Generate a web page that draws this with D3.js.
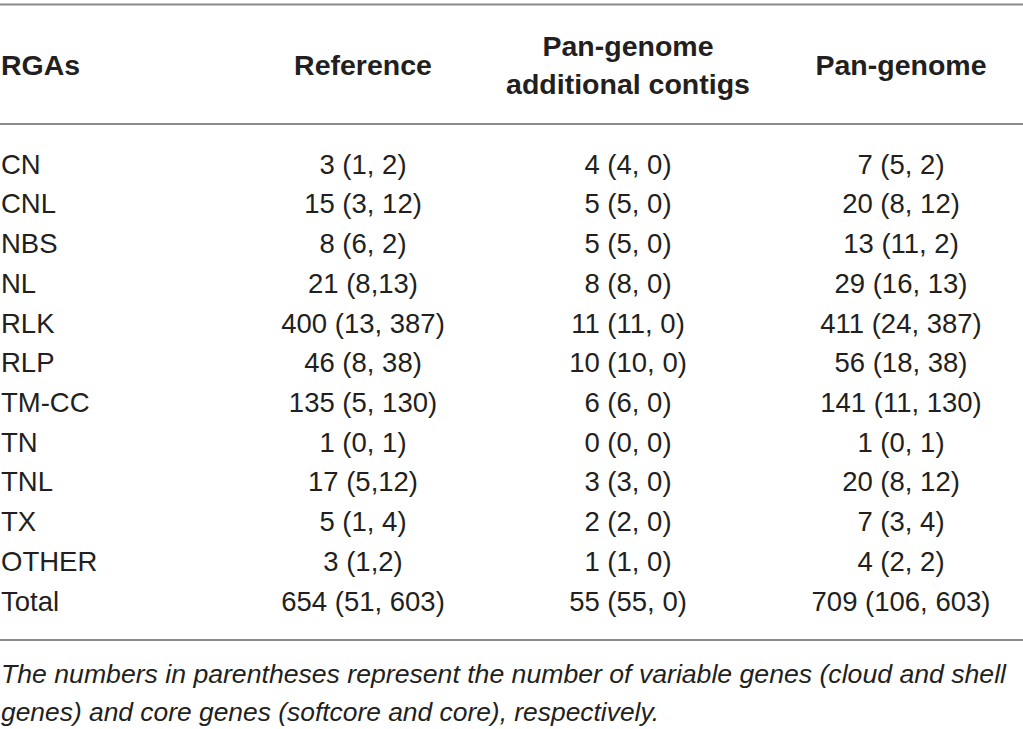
<!DOCTYPE html>
<html>
<head>
<meta charset="utf-8">
<script src="https://cdn.jsdelivr.net/npm/d3@7"></script>
<style>
  html, body { margin: 0; padding: 0; background: #fff; }
  svg { display: block; }
</style>
</head>
<body>
<svg id="chart" width="1023" height="729"></svg>
<script>
// ---- data ----
const categories = ["CN", "CNL", "NBS", "NL", "RLK", "RLP", "TM-CC", "TN", "TNL", "TX", "OTHER", "Total"];
const columns = ["Reference", "Pan-genome additional contigs", "Pan-genome"];
const headerLines = [["Reference"], ["Pan-genome", "additional contigs"], ["Pan-genome"]];
const firstHeader = "RGAs";

const referenceTotal    = [3, 15, 8, 21, 400, 46, 135, 1, 17, 5, 3, 654];
const referenceVariable = [1, 3, 6, 8, 13, 8, 5, 0, 5, 1, 1, 51];
const referenceCore     = [2, 12, 2, 13, 387, 38, 130, 1, 12, 4, 2, 603];

const additionalTotal    = [4, 5, 5, 8, 11, 10, 6, 0, 3, 2, 1, 55];
const additionalVariable = [4, 5, 5, 8, 11, 10, 6, 0, 3, 2, 1, 55];
const additionalCore     = [0, 0, 0, 0, 0, 0, 0, 0, 0, 0, 0, 0];

const panTotal    = [7, 20, 13, 29, 411, 56, 141, 1, 20, 7, 4, 709];
const panVariable = [5, 8, 11, 16, 24, 18, 11, 0, 8, 3, 2, 106];
const panCore     = [2, 12, 2, 13, 387, 38, 130, 1, 12, 4, 2, 603];

// cells printed without a space after the comma in the source table
const compactCells = ["NL|Reference", "TNL|Reference", "OTHER|Reference"];

const footnoteLines = [
  "The numbers in parentheses represent the number of variable genes (cloud and shell",
  "genes) and core genes (softcore and core), respectively."
];

// ---- build ----
const seriesByColumn = {
  "Reference": [referenceTotal, referenceVariable, referenceCore],
  "Pan-genome additional contigs": [additionalTotal, additionalVariable, additionalCore],
  "Pan-genome": [panTotal, panVariable, panCore]
};

const cells = [];
categories.forEach((cat, i) => {
  columns.forEach(col => {
    const [t, v, c] = seriesByColumn[col];
    const sep = compactCells.includes(cat + "|" + col) ? "," : ", ";
    cells.push({ cat, col, text: `${t[i]} (${v[i]}${sep}${c[i]})` });
  });
});

const svg = d3.select("#chart");
const W = 1023;
const bodyFont = "'Liberation Sans', Arial, Helvetica, sans-serif";
const textColor = "#231f20";

const y = d3.scalePoint().domain(categories).range([164, 601]);
const x = d3.scaleOrdinal().domain(columns).range([363, 628, 901]);

// rules
const ruleY = [4.5, 124, 640];
svg.selectAll("line.rule").data(ruleY).join("line")
  .attr("class", "rule")
  .attr("x1", 0).attr("x2", W)
  .attr("y1", d => d).attr("y2", d => d)
  .attr("stroke", "#8a8a8a").attr("stroke-width", 2);

// header
svg.append("text")
  .attr("x", 1).attr("y", 65).attr("dy", "0.35em")
  .attr("font-family", bodyFont).attr("font-weight", "bold")
  .attr("font-size", 28.5).attr("fill", textColor)
  .text(firstHeader);

columns.forEach((col, ci) => {
  const lines = headerLines[ci];
  const lh = 37.5;
  const startY = 65 - (lines.length - 1) * lh / 2;
  lines.forEach((ln, li) => {
    svg.append("text")
      .attr("x", x(col)).attr("y", startY + li * lh).attr("dy", "0.35em")
      .attr("text-anchor", "middle")
      .attr("font-family", bodyFont).attr("font-weight", "bold")
      .attr("font-size", 28.5).attr("fill", textColor)
      .text(ln);
  });
});

// row labels
svg.selectAll("text.rowlabel").data(categories).join("text")
  .attr("class", "rowlabel")
  .attr("x", 1).attr("y", d => y(d)).attr("dy", "0.35em")
  .attr("font-family", bodyFont).attr("font-size", 27.5)
  .attr("fill", textColor)
  .text(d => d);

// cells
svg.selectAll("text.cell").data(cells).join("text")
  .attr("class", "cell")
  .attr("x", d => x(d.col)).attr("y", d => y(d.cat)).attr("dy", "0.35em")
  .attr("text-anchor", "middle")
  .attr("font-family", bodyFont).attr("font-size", 27.5)
  .attr("fill", textColor)
  .text(d => d.text);

// footnote
const footY = [674, 712];
const footW = [1005, 658];
footnoteLines.forEach((ln, i) => {
  svg.append("text")
    .attr("x", 1).attr("y", footY[i]).attr("dy", "0.35em")
    .attr("font-family", bodyFont).attr("font-style", "italic")
    .attr("font-size", 26).attr("fill", textColor)
    .attr("textLength", footW[i]).attr("lengthAdjust", "spacingAndGlyphs")
    .text(ln);
});
</script>
</body>
</html>
